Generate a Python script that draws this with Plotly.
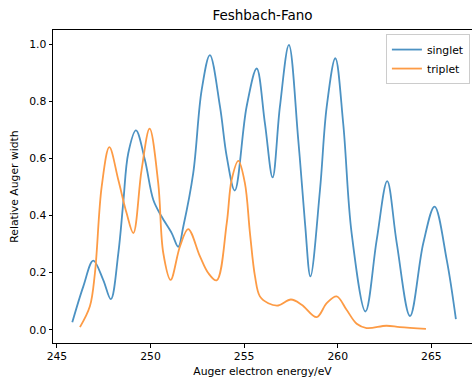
import plotly.graph_objects as go

# Singlet curve (energy in eV, relative Auger width)
singlet_x = [245.82, 246.41, 246.94, 247.47, 247.88, 248.28, 248.54, 248.81, 249.22, 249.70,
             250.15, 250.59, 251.13, 251.48, 251.75, 252.28, 252.73, 253.17, 253.71, 254.07,
             254.50, 255.13, 255.67, 256.11, 256.52, 256.91, 257.39, 257.89, 258.25, 258.54,
             259.05, 259.41, 259.87, 260.29, 260.74, 261.48, 262.08, 262.64, 263.15, 263.86,
             264.57, 265.17, 265.82, 266.31]
singlet_y = [0.026, 0.152, 0.242, 0.175, 0.107, 0.269, 0.444, 0.619, 0.699, 0.595,
             0.455, 0.397, 0.339, 0.291, 0.362, 0.549, 0.840, 0.963, 0.782, 0.607,
             0.488, 0.782, 0.916, 0.724, 0.534, 0.782, 0.999, 0.666, 0.374, 0.187,
             0.490, 0.782, 0.952, 0.724, 0.339, 0.064, 0.315, 0.521, 0.304, 0.048,
             0.304, 0.432, 0.245, 0.037]

# Triplet curve
triplet_x = [246.23, 246.76, 247.03, 247.39, 247.80, 248.28, 248.72, 249.08, 249.52, 249.95,
             250.41, 250.68, 251.07, 251.57, 252.01, 252.64, 253.08, 253.53, 254.07, 254.33,
             254.69, 255.04, 255.31, 255.58, 255.84, 256.29, 256.82, 257.50, 258.07, 258.87,
             259.41, 259.94, 260.47, 261.01, 261.54, 262.60, 263.32, 264.71]
triplet_y = [0.009, 0.082, 0.199, 0.502, 0.640, 0.525, 0.409, 0.339, 0.560, 0.705,
             0.514, 0.269, 0.175, 0.292, 0.353, 0.257, 0.199, 0.173, 0.374, 0.525,
             0.592, 0.514, 0.339, 0.187, 0.117, 0.093, 0.085, 0.106, 0.088, 0.044,
             0.093, 0.117, 0.070, 0.021, 0.006, 0.014, 0.009, 0.003]

x_ticks = [245, 250, 255, 260, 265]
y_ticks = [0.0, 0.2, 0.4, 0.6, 0.8, 1.0]

FONT = "DejaVu Sans"

fig = go.Figure()
fig.add_trace(go.Scatter(x=singlet_x, y=singlet_y, mode="lines", name="singlet",
                         line=dict(color="#4c92c3", width=1.8, shape="spline", smoothing=1.0)))
fig.add_trace(go.Scatter(x=triplet_x, y=triplet_y, mode="lines", name="triplet",
                         line=dict(color="#fd9b45", width=1.8, shape="spline", smoothing=1.0)))

axis_common = dict(showgrid=False, zeroline=False, showline=True, linecolor="black",
                   linewidth=1, mirror=True, ticks="outside", ticklen=3.5, tickwidth=1,
                   tickcolor="black", tickfont=dict(family=FONT, size=10.8, color="black"))

fig.update_layout(
    width=472, height=379,
    margin=dict(l=53, r=0, t=30, b=36),
    paper_bgcolor="white", plot_bgcolor="white",
    title=dict(text="Feshbach-Fano", x=(53 + 472) / 2 / 472, xanchor="center",
               y=1 - 15 / 379, yanchor="middle",
               font=dict(family=FONT, size=13.5, color="black")),
    xaxis=dict(range=[244.79, 267.17], tickvals=x_ticks,
               ticktext=[str(v) for v in x_ticks],
               title=dict(text="Auger electron energy/eV", standoff=4,
                          font=dict(family=FONT, size=10.8, color="black")),
               automargin=False, **axis_common),
    yaxis=dict(range=[-0.0465, 1.051], tickvals=y_ticks,
               ticktext=[f"{v:.1f}" for v in y_ticks],
               title=dict(text="Relative Auger width", standoff=8,
                          font=dict(family=FONT, size=10.8, color="black")),
               automargin=False, **axis_common),
    legend=dict(x=0.995, xanchor="right", y=0.987, yanchor="top",
                bgcolor="rgba(255,255,255,0.8)", bordercolor="#cccccc", borderwidth=1,
                font=dict(family=FONT, size=10.8, color="black"),
                itemwidth=30, tracegroupgap=0),
    showlegend=True,
)

fig.write_html("out.html")
